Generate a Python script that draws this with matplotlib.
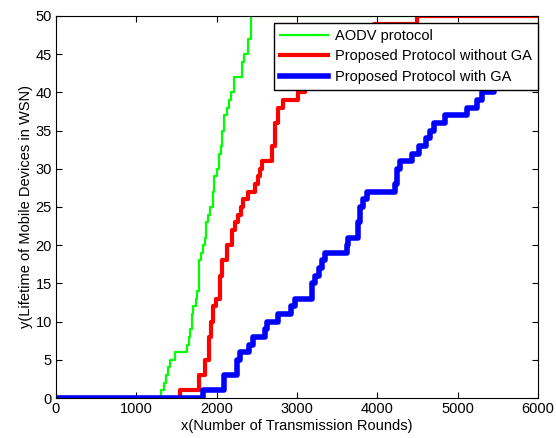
import matplotlib.pyplot as plt
import numpy as np

plt.rcParams['font.family'] = ['Liberation Sans', 'DejaVu Sans']

# step points: round at which the count of dead devices jumps to the value
aodv_x = [0, 1307, 1340, 1370, 1400, 1420, 1480, 1630, 1650, 1670, 1690, 1710, 1740,
          1760, 1775, 1800, 1830, 1850, 1870, 1890, 1920, 1950, 1970, 2010, 2030,
          2050, 2070, 2090, 2130, 2150, 2180, 2220, 2320, 2340, 2390, 2425, 6000]
aodv_y = [0, 1, 2, 3, 4, 5, 6, 7, 8, 9, 11, 12, 13,
          14, 18, 19, 20, 21, 23, 24, 25, 27, 29, 30, 32,
          33, 35, 37, 38, 39, 40, 42, 44, 45, 47, 50, 50]

nga_x = [0, 1545, 1785, 1855, 1910, 1930, 1950, 1990, 2040, 2070, 2130, 2190, 2230,
         2260, 2300, 2330, 2390, 2480, 2515, 2540, 2565, 2690, 2725, 2765, 2825, 3013,
         3100, 3200, 3300, 3400, 3500, 3600, 3700, 3850, 3960, 4490, 6000]
nga_y = [0, 1, 3, 5, 8, 10, 12, 13, 16, 18, 20, 22, 23,
         24, 25, 26, 27, 28, 29, 30, 31, 33, 36, 38, 39, 40,
         41, 42, 43, 44, 45, 46, 47, 48, 49, 50, 50]

ga_x = [0, 1830, 2090, 2255, 2290, 2330, 2400, 2450, 2600, 2625, 2765, 2925, 2975,
        3190, 3220, 3270, 3311, 3350, 3620, 3640, 3760, 3780, 3820, 3870, 4220,
        4250, 4280, 4400, 4430, 4520, 4600, 4655, 4700, 4760, 4840, 5115, 5240,
        5300, 5450, 5550, 5620, 5700, 5780, 5850, 5920, 5980, 6000]
ga_y = [0, 1, 3, 5, 6, 6, 7, 8, 9, 10, 11, 12, 13,
        15, 16, 17, 18, 19, 20, 21, 23, 25, 26, 27, 28,
        30, 31, 31, 32, 33, 34, 35, 36, 36, 37, 38, 39,
        40, 41, 42, 43, 44, 45, 46, 47, 48, 48]

fig = plt.figure(figsize=(5.56, 4.38), dpi=100)
ax = fig.add_axes([0.1007, 0.0913, 0.8669, 0.8722])

ax.step(aodv_x, aodv_y, where='post', color='#00ff00', linewidth=1.6, label='AODV protocol')
ax.step(nga_x, nga_y, where='post', color='#ff0000', linewidth=3, label='Proposed Protocol without GA')
ax.step(ga_x, ga_y, where='post', color='#0000ff', linewidth=4, label='Proposed Protocol with GA')

ax.set_xlim(0, 6000)
ax.set_ylim(0, 50)
ax.set_xticks(np.arange(0, 6001, 1000))
ax.set_yticks(np.arange(0, 51, 5))
ax.tick_params(direction='in', top=True, right=True, labelsize=10.5, length=4, pad=3)
ax.set_xlabel('x(Number of Transmission Rounds)', fontsize=10.5, labelpad=2)
ax.set_ylabel('y(Lifetime of Mobile Devices in WSN)', fontsize=10.5, labelpad=2)

leg = ax.legend(loc='upper right', bbox_to_anchor=(1.0, 1 - 7 / 382), borderaxespad=0,
                fontsize=10.5, fancybox=False, framealpha=1, edgecolor='black',
                handlelength=3.3, labelspacing=0.45, borderpad=0.4, handletextpad=0.5)
leg.get_frame().set_linewidth(1.0)

fig.savefig('out.png', dpi=100)
